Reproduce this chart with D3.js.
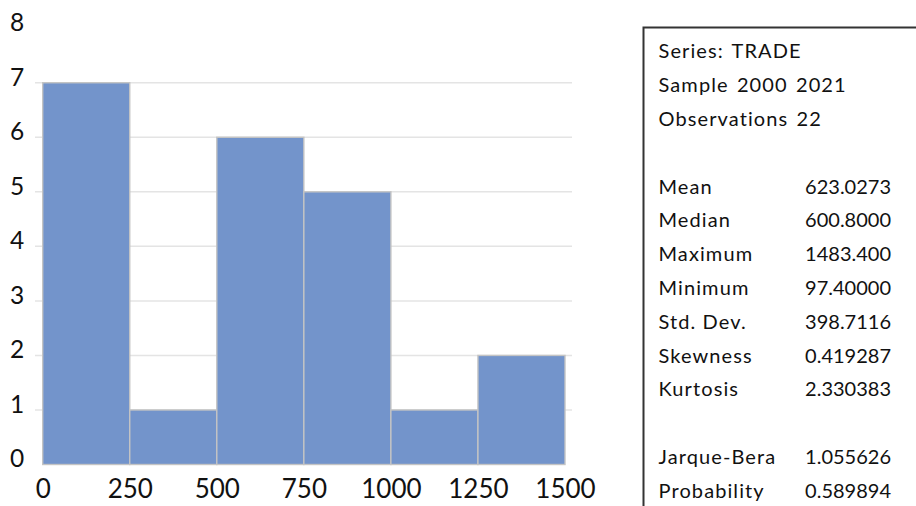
<!DOCTYPE html>
<html>
<head>
<meta charset="utf-8">
<script src="https://cdn.jsdelivr.net/npm/d3@7"></script>
<style>
  html, body { margin: 0; padding: 0; background: #fff; }
  svg { display: block; }
</style>
</head>
<body>
<svg id="chart" width="916" height="506"></svg>
<script>
// Histogram bins of TRADE (bin start, bin end, count)
const binStarts = [0, 250, 500, 750, 1000, 1250];
const binEnds   = [250, 500, 750, 1000, 1250, 1500];
const counts    = [7, 1, 6, 5, 1, 2];

const xTicks = [0, 250, 500, 750, 1000, 1250, 1500];
const yTicks = [0, 1, 2, 3, 4, 5, 6, 7, 8];

// Descriptive statistics panel
const headerLines = ["Series: TRADE", "Sample 2000 2021", "Observations 22"];
const statNames  = ["Mean", "Median", "Maximum", "Minimum", "Std. Dev.", "Skewness", "Kurtosis"];
const statValues = ["623.0273", "600.8000", "1483.400", "97.40000", "398.7116", "0.419287", "2.330383"];
const testNames  = ["Jarque-Bera", "Probability"];
const testValues = ["1.055626", "0.589894"];

const svg = d3.select("#chart");
const font = "Lato, 'Open Sans', sans-serif";

const x = d3.scaleLinear().domain([0, 1500]).range([42.7, 565]);
const y = d3.scaleLinear().domain([0, 8]).range([464.5, 28.2]);

// horizontal gridlines (none drawn at the top value)
svg.append("g")
  .selectAll("line")
  .data(yTicks.filter(d => d > 0 && d < 8))
  .join("line")
  .attr("x1", 35).attr("x2", 572)
  .attr("y1", d => y(d)).attr("y2", d => y(d))
  .attr("stroke", "#e4e4e4")
  .attr("stroke-width", 1.5);

// bars
const bins = binStarts.map((s, i) => ({ x0: s, x1: binEnds[i], n: counts[i] }));
svg.append("g")
  .selectAll("rect")
  .data(bins)
  .join("rect")
  .attr("x", d => x(d.x0))
  .attr("y", d => y(d.n))
  .attr("width", d => x(d.x1) - x(d.x0))
  .attr("height", d => y(0) - y(d.n))
  .attr("fill", "#7394CB")
  .attr("stroke", "#c4c4c4")
  .attr("stroke-width", 1.4);

// y axis labels
const yAxis = d3.axisLeft(y).tickValues(yTicks).tickSize(0).tickPadding(0).tickFormat(d3.format("d"));
const gy = svg.append("g").attr("transform", "translate(17,0)").call(yAxis);
gy.select(".domain").remove();
gy.selectAll("text")
  .attr("text-anchor", "middle")
  .attr("dy", "0.1em")
  .attr("x", 0)
  .style("font-family", font)
  .style("font-size", "24.5px")
  .style("fill", "#111");

// x axis labels
const xAxis = d3.axisBottom(x).tickValues(xTicks).tickSize(0).tickPadding(0).tickFormat(d3.format("d"));
const gx = svg.append("g").attr("transform", "translate(0,479)").call(xAxis);
gx.select(".domain").remove();
gx.selectAll("text")
  .attr("dy", "0.72em")
  .attr("y", 0)
  .style("font-family", font)
  .style("font-size", "26px")
  .style("fill", "#111");

// statistics panel frame (left and top edges)
const panel = svg.append("g");
panel.append("path")
  .attr("d", "M643.5,510 L643.5,27.5 L920,27.5")
  .attr("fill", "none")
  .attr("stroke", "#333")
  .attr("stroke-width", 2);

const lineH = 33.8;
const textStyle = sel => sel
  .style("font-family", font)
  .style("font-size", "20px")
  .style("fill", "#111");

panel.selectAll("text.hdr")
  .data(headerLines)
  .join("text")
  .attr("class", "hdr")
  .attr("x", 658.5)
  .attr("y", (d, i) => 58.3 + i * lineH)
  .text(d => d)
  .call(textStyle)
  .style("letter-spacing", "1.1px")
  .style("word-spacing", "2px");

const rows = statNames.map((n, i) => ({ n, v: statValues[i], row: 4 + i }))
  .concat(testNames.map((n, i) => ({ n, v: testValues[i], row: 12 + i })));

panel.selectAll("text.name")
  .data(rows)
  .join("text")
  .attr("class", "name")
  .attr("x", 658.5)
  .attr("y", d => 58.3 + d.row * lineH)
  .text(d => d.n)
  .call(textStyle)
  .style("letter-spacing", "1.1px");

panel.selectAll("text.val")
  .data(rows)
  .join("text")
  .attr("class", "val")
  .attr("x", 891)
  .attr("text-anchor", "end")
  .attr("y", d => 58.3 + d.row * lineH)
  .text(d => d.v)
  .call(textStyle);
</script>
</body>
</html>
